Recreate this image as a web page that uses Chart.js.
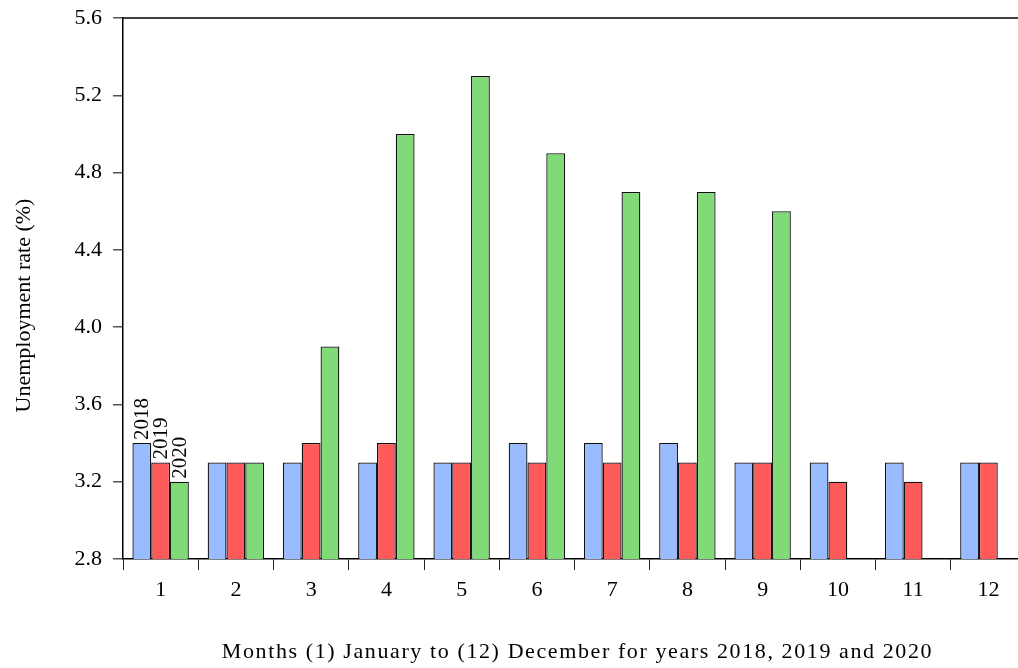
<!DOCTYPE html>
<html>
<head>
<meta charset="utf-8">
<script src="https://cdn.jsdelivr.net/npm/chart.js@4"></script>
<style>
html,body{margin:0;padding:0;background:#fff;overflow:hidden;}
#wrap{width:1032px;height:668px;position:relative;}
</style>
</head>
<body>
<div id="wrap"><canvas id="c"></canvas></div>
<script>
const months = ['1','2','3','4','5','6','7','8','9','10','11','12'];
const seriesNames = ['2018','2019','2020'];
const rate2018 = [3.4,3.3,3.3,3.3,3.3,3.4,3.4,3.4,3.3,3.3,3.3,3.3];
const rate2019 = [3.3,3.3,3.4,3.4,3.3,3.3,3.3,3.3,3.3,3.2,3.2,3.3];
const rate2020 = [3.2,3.3,3.9,5.0,5.3,4.9,4.7,4.7,4.6,null,null,null];
const yTicks = [2.8,3.2,3.6,4.0,4.4,4.8,5.2,5.6];
const xTitle = 'Months (1) January to (12) December for years 2018, 2019 and 2020';
const yTitle = 'Unemployment rate (%)';

const FONT = "'Liberation Serif','Times New Roman',serif";

const extrasPlugin = {
  id:'extras',
  afterDatasetsDraw(chart){
    const ctx = chart.ctx;
    const a = chart.chartArea;
    ctx.save();
    ctx.fillStyle = '#000';
    ctx.font = "21px " + FONT;
    ctx.textAlign = 'left';
    ctx.textBaseline = 'middle';
    chart.data.datasets.forEach((ds,i)=>{
      const bar = chart.getDatasetMeta(i).data[0];
      if(!bar) return;
      ctx.save();
      ctx.translate(bar.x+1, bar.y-3);
      ctx.rotate(-Math.PI/2);
      ctx.fillText(ds.label,0,0);
      ctx.restore();
    });
    ctx.strokeStyle = '#000';
    ctx.lineWidth = 1.5;
    ctx.beginPath();
    ctx.moveTo(a.left, a.top);
    ctx.lineTo(a.right, a.top);
    ctx.stroke();
    ctx.font = "22px " + FONT;
    ctx.textAlign = 'center';
    ctx.textBaseline = 'alphabetic';
    ctx.save();
    ctx.letterSpacing = '1.6px';
    ctx.fillText(xTitle, (a.left+a.right)/2 + 3, 658);
    ctx.restore();
    ctx.save();
    ctx.translate(30, (a.top+a.bottom)/2 + 17);
    ctx.rotate(-Math.PI/2);
    ctx.fillText(yTitle, 0, 0);
    ctx.restore();
    ctx.restore();
  }
};

new Chart(document.getElementById('c'),{
  type:'bar',
  data:{
    labels:months,
    datasets:[
      {label:seriesNames[0],data:rate2018,backgroundColor:'#99BBFF'},
      {label:seriesNames[1],data:rate2019,backgroundColor:'#FF5A5A'},
      {label:seriesNames[2],data:rate2020,backgroundColor:'#80DA78'}
    ]
  },
  options:{
    responsive:true,
    maintainAspectRatio:false,
    animation:false,
    devicePixelRatio:1,
    layout:{padding:{top:18,right:6,left:0,bottom:0}},
    datasets:{bar:{categoryPercentage:0.75,barPercentage:1.0,borderColor:'#111',borderWidth:1.3,borderSkipped:false}},
    plugins:{legend:{display:false},tooltip:{enabled:false}},
    scales:{
      x:{
        offset:true,
        grid:{offset:true,drawOnChartArea:false,drawTicks:true,tickLength:11,color:'#222',lineWidth:1},
        border:{display:true,color:'#000',width:1.5},
        ticks:{color:'#000',font:{family:FONT,size:22},padding:7,maxRotation:0},
        title:{display:false},
        afterFit(s){s.height=109;s.paddingLeft=0;s.paddingRight=0;}
      },
      y:{
        min:2.8,max:5.6,
        afterBuildTicks(s){s.ticks = yTicks.map(v=>({value:v}));},
        grid:{drawOnChartArea:false,drawTicks:true,tickLength:10,color:'#555',lineWidth:1.5},
        border:{display:true,color:'#000',width:1.5},
        ticks:{color:'#000',font:{family:FONT,size:22},padding:11,callback:(v)=>Number(v).toFixed(1)},
        title:{display:false},
        afterFit(s){s.width=123;s.paddingTop=0;s.paddingBottom=0;}
      }
    }
  },
  plugins:[extrasPlugin]
});
</script>
</body>
</html>
